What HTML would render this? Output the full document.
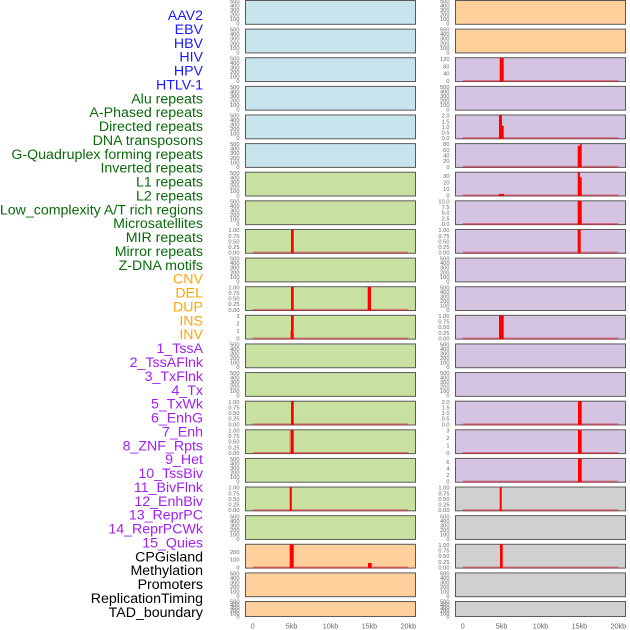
<!DOCTYPE html>
<html><head><meta charset="utf-8"><style>
html,body{margin:0;padding:0;background:#fff;}
svg{display:block;}
.lab{font-family:"Liberation Sans",sans-serif;font-size:14.2px;text-anchor:end;}
.tk{font-family:"Liberation Sans",sans-serif;font-size:5.7px;fill:#666;text-anchor:end;}
.ax{font-family:"Liberation Sans",sans-serif;font-size:7.2px;fill:#666;text-anchor:middle;}
</style></head><body>
<svg width="630" height="630" viewBox="0 0 630 630" xmlns="http://www.w3.org/2000/svg">
<rect width="630" height="630" fill="#fff"/>
<!-- labels -->
<g class="lab">
<text x="203" y="20" fill="#1a1aff">AAV2</text>
<text x="203" y="33.9" fill="#1a1aff">EBV</text>
<text x="203" y="47.8" fill="#1a1aff">HBV</text>
<text x="203" y="61.6" fill="#1a1aff">HIV</text>
<text x="203" y="75.5" fill="#1a1aff">HPV</text>
<text x="203" y="89.4" fill="#1a1aff">HTLV-1</text>
<text x="203" y="103.3" fill="#0a6a0a">Alu repeats</text>
<text x="203" y="117.2" fill="#0a6a0a">A-Phased repeats</text>
<text x="203" y="131" fill="#0a6a0a">Directed repeats</text>
<text x="203" y="144.9" fill="#0a6a0a">DNA transposons</text>
<text x="203" y="158.8" fill="#0a6a0a">G-Quadruplex forming repeats</text>
<text x="203" y="172.7" fill="#0a6a0a">Inverted repeats</text>
<text x="203" y="186.6" fill="#0a6a0a">L1 repeats</text>
<text x="203" y="200.4" fill="#0a6a0a">L2 repeats</text>
<text x="203" y="214.3" fill="#0a6a0a">Low_complexity A/T rich regions</text>
<text x="203" y="228.2" fill="#0a6a0a">Microsatellites</text>
<text x="203" y="242.1" fill="#0a6a0a">MIR repeats</text>
<text x="203" y="256" fill="#0a6a0a">Mirror repeats</text>
<text x="203" y="269.8" fill="#0a6a0a">Z-DNA motifs</text>
<text x="203" y="283.7" fill="#ffa500">CNV</text>
<text x="203" y="297.6" fill="#ffa500">DEL</text>
<text x="203" y="311.5" fill="#ffa500">DUP</text>
<text x="203" y="325.4" fill="#ffa500">INS</text>
<text x="203" y="339.2" fill="#ffa500">INV</text>
<text x="203" y="353.1" fill="#a020f0">1_TssA</text>
<text x="203" y="367" fill="#a020f0">2_TssAFlnk</text>
<text x="203" y="380.9" fill="#a020f0">3_TxFlnk</text>
<text x="203" y="394.8" fill="#a020f0">4_Tx</text>
<text x="203" y="408.6" fill="#a020f0">5_TxWk</text>
<text x="203" y="422.5" fill="#a020f0">6_EnhG</text>
<text x="203" y="436.4" fill="#a020f0">7_Enh</text>
<text x="203" y="450.3" fill="#a020f0">8_ZNF_Rpts</text>
<text x="203" y="464.2" fill="#a020f0">9_Het</text>
<text x="203" y="478" fill="#a020f0">10_TssBiv</text>
<text x="203" y="491.9" fill="#a020f0">11_BivFlnk</text>
<text x="203" y="505.8" fill="#a020f0">12_EnhBiv</text>
<text x="203" y="519.7" fill="#a020f0">13_ReprPC</text>
<text x="203" y="533.6" fill="#a020f0">14_ReprPCWk</text>
<text x="203" y="547.4" fill="#a020f0">15_Quies</text>
<text x="203" y="561.3" fill="#000">CPGisland</text>
<text x="203" y="575.2" fill="#000">Methylation</text>
<text x="203" y="589.1" fill="#000">Promoters</text>
<text x="203" y="603" fill="#000">ReplicationTiming</text>
<text x="203" y="616.8" fill="#000">TAD_boundary</text>
</g>

<!-- LEFT COLUMN -->
<g transform="translate(0,0)"><rect x="245.5" y="0.5" width="170" height="23.8" fill="#c8e4ec" stroke="#595959"/>
<g class="tk"><text x="239.5" y="3.1">500</text><text x="239.5" y="7.6">400</text><text x="239.5" y="12.1">300</text><text x="239.5" y="16.7">200</text><text x="239.5" y="21.2">100</text><text x="239.5" y="25.7">0</text></g></g>
<g transform="translate(0,28.62)"><rect x="245.5" y="0.5" width="170" height="23.8" fill="#c8e4ec" stroke="#595959"/>
<g class="tk"><text x="239.5" y="3.1">500</text><text x="239.5" y="7.6">400</text><text x="239.5" y="12.1">300</text><text x="239.5" y="16.7">200</text><text x="239.5" y="21.2">100</text><text x="239.5" y="25.7">0</text></g></g>
<g transform="translate(0,57.24)"><rect x="245.5" y="0.5" width="170" height="23.8" fill="#c8e4ec" stroke="#595959"/>
<g class="tk"><text x="239.5" y="3.1">500</text><text x="239.5" y="7.6">400</text><text x="239.5" y="12.1">300</text><text x="239.5" y="16.7">200</text><text x="239.5" y="21.2">100</text><text x="239.5" y="25.7">0</text></g></g>
<g transform="translate(0,85.86)"><rect x="245.5" y="0.5" width="170" height="23.8" fill="#c8e4ec" stroke="#595959"/>
<g class="tk"><text x="239.5" y="3.1">500</text><text x="239.5" y="7.6">400</text><text x="239.5" y="12.1">300</text><text x="239.5" y="16.7">200</text><text x="239.5" y="21.2">100</text><text x="239.5" y="25.7">0</text></g></g>
<g transform="translate(0,114.48)"><rect x="245.5" y="0.5" width="170" height="23.8" fill="#c8e4ec" stroke="#595959"/>
<g class="tk"><text x="239.5" y="3.1">500</text><text x="239.5" y="7.6">400</text><text x="239.5" y="12.1">300</text><text x="239.5" y="16.7">200</text><text x="239.5" y="21.2">100</text><text x="239.5" y="25.7">0</text></g></g>
<g transform="translate(0,143.1)"><rect x="245.5" y="0.5" width="170" height="23.8" fill="#c8e4ec" stroke="#595959"/>
<g class="tk"><text x="239.5" y="3.1">500</text><text x="239.5" y="7.6">400</text><text x="239.5" y="12.1">300</text><text x="239.5" y="16.7">200</text><text x="239.5" y="21.2">100</text><text x="239.5" y="25.7">0</text></g></g>
<g transform="translate(0,171.72)"><rect x="245.5" y="0.5" width="170" height="23.8" fill="#c8e0a0" stroke="#595959"/>
<g class="tk"><text x="239.5" y="3.1">500</text><text x="239.5" y="7.6">400</text><text x="239.5" y="12.1">300</text><text x="239.5" y="16.7">200</text><text x="239.5" y="21.2">100</text><text x="239.5" y="25.7">0</text></g></g>
<g transform="translate(0,200.34)"><rect x="245.5" y="0.5" width="170" height="23.8" fill="#c8e0a0" stroke="#595959"/>
<g class="tk"><text x="239.5" y="3.1">500</text><text x="239.5" y="7.6">400</text><text x="239.5" y="12.1">300</text><text x="239.5" y="16.7">200</text><text x="239.5" y="21.2">100</text><text x="239.5" y="25.7">0</text></g></g>
<g transform="translate(0,228.96)"><rect x="245.5" y="0.5" width="170" height="23.8" fill="#c8e0a0" stroke="#595959"/>
<line x1="252.7" y1="23.7" x2="408.3" y2="23.7" stroke="rgba(210,30,50,0.5)" stroke-width="2"/>
<rect x="291" y="0.6" width="2.7" height="23.7" fill="#ff0000"/>
<g class="tk"><text x="239.5" y="3.1">1.00</text><text x="239.5" y="8.8">0.75</text><text x="239.5" y="14.4">0.50</text><text x="239.5" y="20">0.25</text><text x="239.5" y="25.7">0.00</text></g></g>
<g transform="translate(0,257.58)"><rect x="245.5" y="0.5" width="170" height="23.8" fill="#c8e0a0" stroke="#595959"/>
<g class="tk"><text x="239.5" y="3.1">500</text><text x="239.5" y="7.6">400</text><text x="239.5" y="12.1">300</text><text x="239.5" y="16.7">200</text><text x="239.5" y="21.2">100</text><text x="239.5" y="25.7">0</text></g></g>
<g transform="translate(0,286.2)"><rect x="245.5" y="0.5" width="170" height="23.8" fill="#c8e0a0" stroke="#595959"/>
<line x1="252.7" y1="23.7" x2="408.3" y2="23.7" stroke="rgba(210,30,50,0.5)" stroke-width="2"/>
<rect x="291" y="0.6" width="2.7" height="23.7" fill="#ff0000"/>
<rect x="367.7" y="0.6" width="3.3" height="23.7" fill="#ff0000"/>
<g class="tk"><text x="239.5" y="3.1">1.00</text><text x="239.5" y="8.8">0.75</text><text x="239.5" y="14.4">0.50</text><text x="239.5" y="20">0.25</text><text x="239.5" y="25.7">0.00</text></g></g>
<g transform="translate(0,314.82)"><rect x="245.5" y="0.5" width="170" height="23.8" fill="#c8e0a0" stroke="#595959"/>
<line x1="252.7" y1="23.7" x2="408.3" y2="23.7" stroke="rgba(210,30,50,0.5)" stroke-width="2"/>
<rect x="290" y="16.1" width="1" height="8.2" fill="rgba(255,0,0,0.4)"/>
<rect x="291" y="0.6" width="2.7" height="23.7" fill="#ff0000"/>
<g class="tk"><text x="239.5" y="3.1">3</text><text x="239.5" y="10.6">2</text><text x="239.5" y="18.2">1</text><text x="239.5" y="25.7">0</text></g></g>
<g transform="translate(0,343.44)"><rect x="245.5" y="0.5" width="170" height="23.8" fill="#c8e0a0" stroke="#595959"/>
<g class="tk"><text x="239.5" y="3.1">500</text><text x="239.5" y="7.6">400</text><text x="239.5" y="12.1">300</text><text x="239.5" y="16.7">200</text><text x="239.5" y="21.2">100</text><text x="239.5" y="25.7">0</text></g></g>
<g transform="translate(0,372.06)"><rect x="245.5" y="0.5" width="170" height="23.8" fill="#c8e0a0" stroke="#595959"/>
<g class="tk"><text x="239.5" y="3.1">500</text><text x="239.5" y="7.6">400</text><text x="239.5" y="12.1">300</text><text x="239.5" y="16.7">200</text><text x="239.5" y="21.2">100</text><text x="239.5" y="25.7">0</text></g></g>
<g transform="translate(0,400.68)"><rect x="245.5" y="0.5" width="170" height="23.8" fill="#c8e0a0" stroke="#595959"/>
<line x1="252.7" y1="23.7" x2="408.3" y2="23.7" stroke="rgba(210,30,50,0.5)" stroke-width="2"/>
<rect x="291" y="0.6" width="2.7" height="23.7" fill="#ff0000"/>
<g class="tk"><text x="239.5" y="3.1">1.00</text><text x="239.5" y="8.8">0.75</text><text x="239.5" y="14.4">0.50</text><text x="239.5" y="20">0.25</text><text x="239.5" y="25.7">0.00</text></g></g>
<g transform="translate(0,429.3)"><rect x="245.5" y="0.5" width="170" height="23.8" fill="#c8e0a0" stroke="#595959"/>
<line x1="252.7" y1="23.7" x2="408.3" y2="23.7" stroke="rgba(210,30,50,0.5)" stroke-width="2"/>
<rect x="289.7" y="0.6" width="1.3" height="23.7" fill="rgba(255,0,0,0.45)"/>
<rect x="291" y="0.6" width="2.7" height="23.7" fill="#ff0000"/>
<g class="tk"><text x="239.5" y="3.1">1.00</text><text x="239.5" y="8.8">0.75</text><text x="239.5" y="14.4">0.50</text><text x="239.5" y="20">0.25</text><text x="239.5" y="25.7">0.00</text></g></g>
<g transform="translate(0,457.92)"><rect x="245.5" y="0.5" width="170" height="23.8" fill="#c8e0a0" stroke="#595959"/>
<g class="tk"><text x="239.5" y="3.1">500</text><text x="239.5" y="7.6">400</text><text x="239.5" y="12.1">300</text><text x="239.5" y="16.7">200</text><text x="239.5" y="21.2">100</text><text x="239.5" y="25.7">0</text></g></g>
<g transform="translate(0,486.54)"><rect x="245.5" y="0.5" width="170" height="23.8" fill="#c8e0a0" stroke="#595959"/>
<line x1="252.7" y1="23.7" x2="408.3" y2="23.7" stroke="rgba(210,30,50,0.5)" stroke-width="2"/>
<rect x="289.2" y="0.6" width="0.8" height="23.7" fill="rgba(255,0,0,0.4)"/>
<rect x="290" y="0.6" width="1.8" height="23.7" fill="#ff0000"/>
<g class="tk"><text x="239.5" y="3.1">1.00</text><text x="239.5" y="8.8">0.75</text><text x="239.5" y="14.4">0.50</text><text x="239.5" y="20">0.25</text><text x="239.5" y="25.7">0.00</text></g></g>
<g transform="translate(0,515.16)"><rect x="245.5" y="0.5" width="170" height="23.8" fill="#c8e0a0" stroke="#595959"/>
<g class="tk"><text x="239.5" y="3.1">500</text><text x="239.5" y="7.6">400</text><text x="239.5" y="12.1">300</text><text x="239.5" y="16.7">200</text><text x="239.5" y="21.2">100</text><text x="239.5" y="25.7">0</text></g></g>
<g transform="translate(0,543.78)"><rect x="245.5" y="0.5" width="170" height="23.8" fill="#ffd09c" stroke="#595959"/>
<line x1="252.7" y1="23.7" x2="408.3" y2="23.7" stroke="rgba(210,30,50,0.5)" stroke-width="2"/>
<rect x="289.7" y="0.6" width="4" height="23.7" fill="#ff0000"/>
<rect x="368" y="19.2" width="3.7" height="5.1" fill="#ff0000"/>
<g class="tk"><text x="239.5" y="10.1">200</text><text x="239.5" y="17.9">100</text><text x="239.5" y="25.7">0</text></g></g>
<g transform="translate(0,572.4)"><rect x="245.5" y="0.5" width="170" height="23.8" fill="#ffd09c" stroke="#595959"/>
<g class="tk"><text x="239.5" y="3.1">500</text><text x="239.5" y="7.6">400</text><text x="239.5" y="12.1">300</text><text x="239.5" y="16.7">200</text><text x="239.5" y="21.2">100</text><text x="239.5" y="25.7">0</text></g></g>
<g transform="translate(0,601.02)"><rect x="245.5" y="0.5" width="170" height="15" fill="#ffd09c" stroke="#595959"/>
<g class="tk"><text x="239.5" y="2.7">500</text><text x="239.5" y="5.6">400</text><text x="239.5" y="8.5">300</text><text x="239.5" y="11.5">200</text><text x="239.5" y="14.4">100</text><text x="239.5" y="17.3">0</text></g></g>

<!-- RIGHT COLUMN -->
<g transform="translate(210,0)"><rect x="245.5" y="0.5" width="170" height="23.8" fill="#ffd09c" stroke="#595959"/>
<g class="tk"><text x="239.5" y="3.1">500</text><text x="239.5" y="7.6">400</text><text x="239.5" y="12.1">300</text><text x="239.5" y="16.7">200</text><text x="239.5" y="21.2">100</text><text x="239.5" y="25.7">0</text></g></g>
<g transform="translate(210,28.62)"><rect x="245.5" y="0.5" width="170" height="23.8" fill="#ffd09c" stroke="#595959"/>
<g class="tk"><text x="239.5" y="3.1">500</text><text x="239.5" y="7.6">400</text><text x="239.5" y="12.1">300</text><text x="239.5" y="16.7">200</text><text x="239.5" y="21.2">100</text><text x="239.5" y="25.7">0</text></g></g>
<g transform="translate(210,57.24)"><rect x="245.5" y="0.5" width="170" height="23.8" fill="#d4c4e2" stroke="#595959"/>
<line x1="252.7" y1="23.7" x2="408.3" y2="23.7" stroke="rgba(210,30,50,0.5)" stroke-width="2"/>
<rect x="289.7" y="0.6" width="4" height="23.7" fill="#ff0000"/>
<g class="tk"><text x="239.5" y="4">120</text><text x="239.5" y="11.2">80</text><text x="239.5" y="18.5">40</text><text x="239.5" y="25.7">0</text></g></g>
<g transform="translate(210,85.86)"><rect x="245.5" y="0.5" width="170" height="23.8" fill="#d4c4e2" stroke="#595959"/>
<g class="tk"><text x="239.5" y="3.1">500</text><text x="239.5" y="7.6">400</text><text x="239.5" y="12.1">300</text><text x="239.5" y="16.7">200</text><text x="239.5" y="21.2">100</text><text x="239.5" y="25.7">0</text></g></g>
<g transform="translate(210,114.48)"><rect x="245.5" y="0.5" width="170" height="23.8" fill="#d4c4e2" stroke="#595959"/>
<line x1="252.7" y1="23.7" x2="408.3" y2="23.7" stroke="rgba(210,30,50,0.5)" stroke-width="2"/>
<rect x="289" y="0.6" width="3" height="23.7" fill="#ff0000"/>
<rect x="292" y="11.2" width="1.7" height="13.1" fill="#ff0000"/>
<g class="tk"><text x="239.5" y="3.1">2.0</text><text x="239.5" y="8.8">1.5</text><text x="239.5" y="14.4">1.0</text><text x="239.5" y="20">0.5</text><text x="239.5" y="25.7">0.0</text></g></g>
<g transform="translate(210,143.1)"><rect x="245.5" y="0.5" width="170" height="23.8" fill="#d4c4e2" stroke="#595959"/>
<line x1="252.7" y1="23.7" x2="408.3" y2="23.7" stroke="rgba(210,30,50,0.5)" stroke-width="2"/>
<rect x="367.7" y="2.7" width="2.3" height="21.6" fill="#ff0000"/>
<rect x="370" y="0.6" width="1.7" height="23.7" fill="#ff0000"/>
<g class="tk"><text x="239.5" y="3.1">80</text><text x="239.5" y="8.8">60</text><text x="239.5" y="14.4">40</text><text x="239.5" y="20">20</text><text x="239.5" y="25.7">0</text></g></g>
<g transform="translate(210,171.72)"><rect x="245.5" y="0.5" width="170" height="23.8" fill="#d4c4e2" stroke="#595959"/>
<line x1="252.7" y1="23.7" x2="408.3" y2="23.7" stroke="rgba(210,30,50,0.5)" stroke-width="2"/>
<rect x="289" y="22.2" width="5" height="2.1" fill="#ff0000"/>
<rect x="367.7" y="0.6" width="2.3" height="23.7" fill="#ff0000"/>
<rect x="370" y="5.6" width="1.7" height="18.7" fill="#ff0000"/>
<g class="tk"><text x="239.5" y="6.3">30</text><text x="239.5" y="12.8">20</text><text x="239.5" y="19.2">10</text><text x="239.5" y="25.7">0</text></g></g>
<g transform="translate(210,200.34)"><rect x="245.5" y="0.5" width="170" height="23.8" fill="#d4c4e2" stroke="#595959"/>
<line x1="252.7" y1="23.7" x2="408.3" y2="23.7" stroke="rgba(210,30,50,0.5)" stroke-width="2"/>
<rect x="367.7" y="0.6" width="4" height="23.7" fill="#ff0000"/>
<g class="tk"><text x="239.5" y="3.1">10.0</text><text x="239.5" y="8.8">7.5</text><text x="239.5" y="14.4">5.0</text><text x="239.5" y="20">2.5</text><text x="239.5" y="25.7">0.0</text></g></g>
<g transform="translate(210,228.96)"><rect x="245.5" y="0.5" width="170" height="23.8" fill="#d4c4e2" stroke="#595959"/>
<line x1="252.7" y1="23.7" x2="408.3" y2="23.7" stroke="rgba(210,30,50,0.5)" stroke-width="2"/>
<rect x="367.7" y="0.6" width="3" height="23.7" fill="#ff0000"/>
<g class="tk"><text x="239.5" y="3.1">1.00</text><text x="239.5" y="8.8">0.75</text><text x="239.5" y="14.4">0.50</text><text x="239.5" y="20">0.25</text><text x="239.5" y="25.7">0.00</text></g></g>
<g transform="translate(210,257.58)"><rect x="245.5" y="0.5" width="170" height="23.8" fill="#d4c4e2" stroke="#595959"/>
<g class="tk"><text x="239.5" y="3.1">500</text><text x="239.5" y="7.6">400</text><text x="239.5" y="12.1">300</text><text x="239.5" y="16.7">200</text><text x="239.5" y="21.2">100</text><text x="239.5" y="25.7">0</text></g></g>
<g transform="translate(210,286.2)"><rect x="245.5" y="0.5" width="170" height="23.8" fill="#d4c4e2" stroke="#595959"/>
<g class="tk"><text x="239.5" y="3.1">500</text><text x="239.5" y="7.6">400</text><text x="239.5" y="12.1">300</text><text x="239.5" y="16.7">200</text><text x="239.5" y="21.2">100</text><text x="239.5" y="25.7">0</text></g></g>
<g transform="translate(210,314.82)"><rect x="245.5" y="0.5" width="170" height="23.8" fill="#d4c4e2" stroke="#595959"/>
<line x1="252.7" y1="23.7" x2="408.3" y2="23.7" stroke="rgba(210,30,50,0.5)" stroke-width="2"/>
<rect x="289" y="0.6" width="4.7" height="23.7" fill="#ff0000"/>
<g class="tk"><text x="239.5" y="3.1">1.00</text><text x="239.5" y="8.8">0.75</text><text x="239.5" y="14.4">0.50</text><text x="239.5" y="20">0.25</text><text x="239.5" y="25.7">0.00</text></g></g>
<g transform="translate(210,343.44)"><rect x="245.5" y="0.5" width="170" height="23.8" fill="#d4c4e2" stroke="#595959"/>
<g class="tk"><text x="239.5" y="3.1">500</text><text x="239.5" y="7.6">400</text><text x="239.5" y="12.1">300</text><text x="239.5" y="16.7">200</text><text x="239.5" y="21.2">100</text><text x="239.5" y="25.7">0</text></g></g>
<g transform="translate(210,372.06)"><rect x="245.5" y="0.5" width="170" height="23.8" fill="#d4c4e2" stroke="#595959"/>
<g class="tk"><text x="239.5" y="3.1">500</text><text x="239.5" y="7.6">400</text><text x="239.5" y="12.1">300</text><text x="239.5" y="16.7">200</text><text x="239.5" y="21.2">100</text><text x="239.5" y="25.7">0</text></g></g>
<g transform="translate(210,400.68)"><rect x="245.5" y="0.5" width="170" height="23.8" fill="#d4c4e2" stroke="#595959"/>
<line x1="252.7" y1="23.7" x2="408.3" y2="23.7" stroke="rgba(210,30,50,0.5)" stroke-width="2"/>
<rect x="368" y="0.6" width="3.7" height="23.7" fill="#ff0000"/>
<g class="tk"><text x="239.5" y="3.1">2.0</text><text x="239.5" y="8.8">1.5</text><text x="239.5" y="14.4">1.0</text><text x="239.5" y="20">0.5</text><text x="239.5" y="25.7">0.0</text></g></g>
<g transform="translate(210,429.3)"><rect x="245.5" y="0.5" width="170" height="23.8" fill="#d4c4e2" stroke="#595959"/>
<line x1="252.7" y1="23.7" x2="408.3" y2="23.7" stroke="rgba(210,30,50,0.5)" stroke-width="2"/>
<rect x="368" y="0.6" width="3.7" height="23.7" fill="#ff0000"/>
<g class="tk"><text x="239.5" y="3.1">3</text><text x="239.5" y="10.6">2</text><text x="239.5" y="18.2">1</text><text x="239.5" y="25.7">0</text></g></g>
<g transform="translate(210,457.92)"><rect x="245.5" y="0.5" width="170" height="23.8" fill="#d4c4e2" stroke="#595959"/>
<line x1="252.7" y1="23.7" x2="408.3" y2="23.7" stroke="rgba(210,30,50,0.5)" stroke-width="2"/>
<rect x="368" y="0.6" width="3.7" height="23.7" fill="#ff0000"/>
<g class="tk"><text x="239.5" y="6.3">6</text><text x="239.5" y="12.8">4</text><text x="239.5" y="19.2">2</text><text x="239.5" y="25.7">0</text></g></g>
<g transform="translate(210,486.54)"><rect x="245.5" y="0.5" width="170" height="23.8" fill="#d0d0d0" stroke="#595959"/>
<line x1="252.7" y1="23.7" x2="408.3" y2="23.7" stroke="rgba(210,30,50,0.5)" stroke-width="2"/>
<rect x="289.2" y="0.6" width="0.8" height="23.7" fill="rgba(255,0,0,0.4)"/>
<rect x="290" y="0.6" width="1.7" height="23.7" fill="#ff0000"/>
<g class="tk"><text x="239.5" y="3.1">1.00</text><text x="239.5" y="8.8">0.75</text><text x="239.5" y="14.4">0.50</text><text x="239.5" y="20">0.25</text><text x="239.5" y="25.7">0.00</text></g></g>
<g transform="translate(210,515.16)"><rect x="245.5" y="0.5" width="170" height="23.8" fill="#d0d0d0" stroke="#595959"/>
<g class="tk"><text x="239.5" y="3.1">500</text><text x="239.5" y="7.6">400</text><text x="239.5" y="12.1">300</text><text x="239.5" y="16.7">200</text><text x="239.5" y="21.2">100</text><text x="239.5" y="25.7">0</text></g></g>
<g transform="translate(210,543.78)"><rect x="245.5" y="0.5" width="170" height="23.8" fill="#d0d0d0" stroke="#595959"/>
<line x1="252.7" y1="23.7" x2="408.3" y2="23.7" stroke="rgba(210,30,50,0.5)" stroke-width="2"/>
<rect x="290" y="0.6" width="2.7" height="23.7" fill="#ff0000"/>
<g class="tk"><text x="239.5" y="3.1">1.00</text><text x="239.5" y="8.8">0.75</text><text x="239.5" y="14.4">0.50</text><text x="239.5" y="20">0.25</text><text x="239.5" y="25.7">0.00</text></g></g>
<g transform="translate(210,572.4)"><rect x="245.5" y="0.5" width="170" height="23.8" fill="#d0d0d0" stroke="#595959"/>
<g class="tk"><text x="239.5" y="3.1">500</text><text x="239.5" y="7.6">400</text><text x="239.5" y="12.1">300</text><text x="239.5" y="16.7">200</text><text x="239.5" y="21.2">100</text><text x="239.5" y="25.7">0</text></g></g>
<g transform="translate(210,601.02)"><rect x="245.5" y="0.5" width="170" height="15" fill="#d0d0d0" stroke="#595959"/>
<g class="tk"><text x="239.5" y="2.7">500</text><text x="239.5" y="5.6">400</text><text x="239.5" y="8.5">300</text><text x="239.5" y="11.5">200</text><text x="239.5" y="14.4">100</text><text x="239.5" y="17.3">0</text></g></g>

<!-- x axes -->
<g class="ax">
<text x="252.7" y="628.4">0</text><text x="291.6" y="628.4">5kb</text><text x="330.5" y="628.4">10kb</text><text x="369.4" y="628.4">15kb</text><text x="408.3" y="628.4">20kb</text>
<text x="462.7" y="628.4">0</text><text x="501.6" y="628.4">5kb</text><text x="540.5" y="628.4">10kb</text><text x="579.4" y="628.4">15kb</text><text x="618.3" y="628.4">20kb</text>
</g>
</svg>
</body></html>
